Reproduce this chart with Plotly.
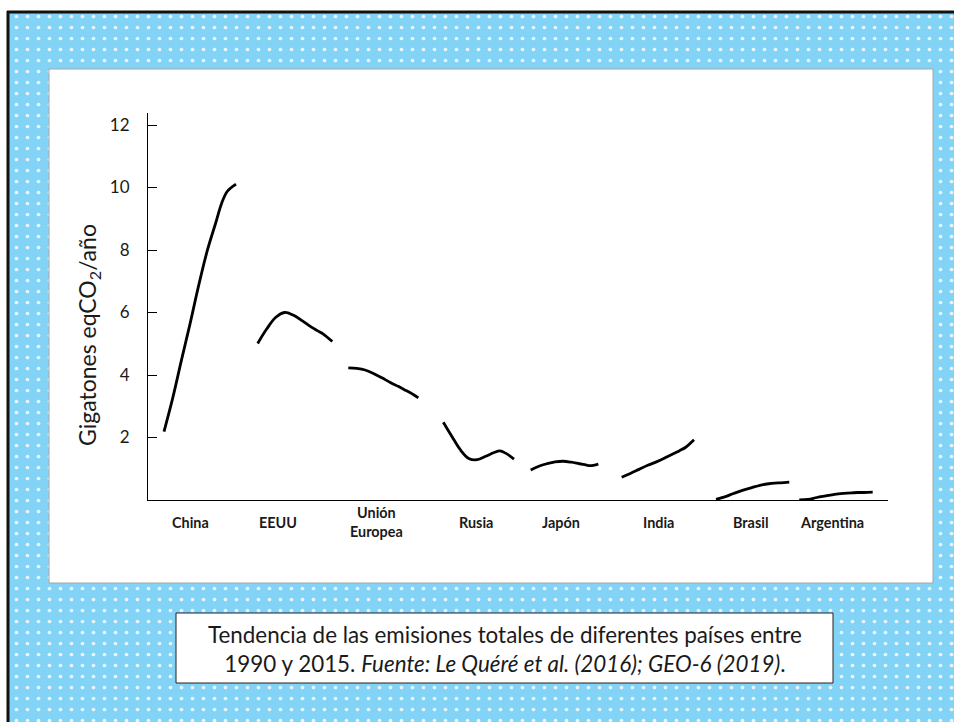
import plotly.graph_objects as go

W, H = 954, 722

# ---------------- data ----------------
countries = ["China", "EEUU", "Unión<br>Europea", "Rusia", "Japón", "India", "Brasil", "Argentina"]
years = [1990, 1993, 1996, 1999, 2002, 2005, 2008, 2010, 2012, 2015]
china = [2.19, 3.25, 4.45, 5.62, 6.85, 7.97, 8.88, 9.49, 9.88, 10.11]
eeuu = [5.01, 5.47, 5.84, 6.00, 5.91, 5.73, 5.53, 5.42, 5.31, 5.07]
union_europea = [4.23, 4.21, 4.16, 4.05, 3.91, 3.76, 3.63, 3.53, 3.44, 3.27]
rusia = [2.49, 2.04, 1.61, 1.33, 1.29, 1.40, 1.52, 1.57, 1.50, 1.31]
japon = [0.96, 1.08, 1.16, 1.22, 1.24, 1.21, 1.16, 1.13, 1.10, 1.15]
india = [0.73, 0.85, 0.98, 1.11, 1.22, 1.35, 1.49, 1.58, 1.68, 1.93]
brasil = [0.02, 0.10, 0.21, 0.31, 0.39, 0.47, 0.52, 0.54, 0.55, 0.57]
argentina = [0.00, 0.02, 0.08, 0.13, 0.18, 0.21, 0.23, 0.24, 0.24, 0.25]
y_ticks = [2, 4, 6, 8, 10, 12]
y_title = "Gigatones eqCO<sub>2</sub>/año"
caption = ("Tendencia de las emisiones totales de diferentes países entre<br>"
           "1990 y 2015. <i>Fuente: Le Quéré et al. (2016); GEO-6 (2019)</i>.")

series = [china, eeuu, union_europea, rusia, japon, india, brasil, argentina]

# ---------------- layout helpers (positions, not data) ----------------
slot_start = [16, 109.7, 200.3, 295.3, 382.7, 473.7, 568, 651.3]
slot_width = [72, 74.6, 70, 70.7, 67.6, 72.3, 73.3, 73.4]
label_x = [42, 130, 228, 328, 413, 510, 602, 684]
PLOT_L, PLOT_R, PLOT_T, PLOT_B = 148, 888, 113, 500
Y_TOP = 12.384

BLUE = "#82d3f6"

fig = go.Figure()


# background subplot (x, y) in figure pixel units
def rect(x0, y0, x1, y1, **kw):
    return go.Scatter(x=[x0, x1, x1, x0, x0], y=[y0, y0, y1, y1, y0],
                      mode="lines", fill="toself", hoverinfo="skip",
                      showlegend=False, xaxis="x", yaxis="y", **kw)


def seg(xs, ys):
    return go.Scatter(x=xs, y=ys, mode="lines", line=dict(color="#111111", width=3),
                      hoverinfo="skip", showlegend=False, xaxis="x", yaxis="y")


fig.add_trace(rect(9, 13, W + 20, H + 20, fillcolor=BLUE, line=dict(width=0, color=BLUE),
                   fillpattern=dict(shape=".", fgcolor="white", bgcolor=BLUE,
                                    size=11, solidity=0.09, fgopacity=0.8)))
fig.add_trace(rect(-10, -10, W + 20, 11, fillcolor="white", line=dict(width=0, color="white")))
fig.add_trace(rect(-10, -10, 7, H + 20, fillcolor="white", line=dict(width=0, color="white")))
fig.add_trace(seg([8, 8], [H + 20, 11]))
fig.add_trace(seg([7, W + 20], [12, 12]))
fig.add_trace(rect(49, 69, 933, 583, fillcolor="white", line=dict(color="#a6a6a6", width=1)))
fig.add_trace(rect(176, 613, 833, 683, fillcolor="white", line=dict(color="#222222", width=1)))

# chart subplot (x2, y2)
for i, vals in enumerate(series):
    xs = [slot_start[i] + (yr - years[0]) / (years[-1] - years[0]) * slot_width[i] for yr in years]
    fig.add_trace(go.Scatter(x=xs, y=vals, mode="lines",
                             line=dict(color="black", width=2.8, shape="spline", smoothing=1),
                             cliponaxis=False, hoverinfo="skip", showlegend=False,
                             xaxis="x2", yaxis="y2"))

annotations = []
for i, name in enumerate(countries):
    annotations.append(dict(x=label_x[i], y=1 - 522 / H, xref="x2", yref="paper",
                            text=f"<b>{name}</b>", showarrow=False, xanchor="center",
                            yanchor="middle", font=dict(family="Lato", size=14.4, color="#1a1a1a")))
annotations.append(dict(x=88 / W, y=1 - 335 / H, xref="paper", yref="paper", text=y_title,
                        textangle=-90, showarrow=False, xanchor="center", yanchor="middle",
                        font=dict(family="Lato", size=23, color="#1a1a1a")))
annotations.append(dict(x=504.5 / W, y=1 - 649 / H, xref="paper", yref="paper", text=caption,
                        showarrow=False, xanchor="center", yanchor="middle",
                        font=dict(family="Lato", size=22.4, color="#1a1a1a")))

fig.update_layout(
    width=W, height=H, autosize=False,
    margin=dict(l=0, r=0, t=0, b=0, pad=0),
    paper_bgcolor=BLUE, plot_bgcolor="rgba(0,0,0,0)",
    showlegend=False, hovermode=False,
    xaxis=dict(domain=[0, 1], range=[0, W], visible=False, fixedrange=True),
    yaxis=dict(domain=[0, 1], range=[H, 0], visible=False, fixedrange=True),
    xaxis2=dict(domain=[PLOT_L / W, PLOT_R / W], range=[0, PLOT_R - PLOT_L], anchor="y2",
                showline=True, linecolor="black", linewidth=1, showgrid=False,
                zeroline=False, ticks="", showticklabels=False, fixedrange=True),
    yaxis2=dict(domain=[1 - PLOT_B / H, 1 - PLOT_T / H], range=[0, Y_TOP], anchor="x2",
                showline=True, linecolor="black", linewidth=1, showgrid=False,
                zeroline=False, ticks="inside", ticklen=9, tickwidth=1, tickcolor="black",
                tickvals=y_ticks, ticklabelstandoff=14,
                tickfont=dict(family="Lato", size=17, color="#1a1a1a"), fixedrange=True),
    annotations=annotations,
)

fig.write_html("out.html", config={"displayModeBar": False},
               post_script=("document.documentElement.style.overflow='hidden';"
                            "document.documentElement.style.background='" + BLUE + "';"
                            "document.body.style.margin='0';"
                            "document.body.style.overflow='hidden';"))
